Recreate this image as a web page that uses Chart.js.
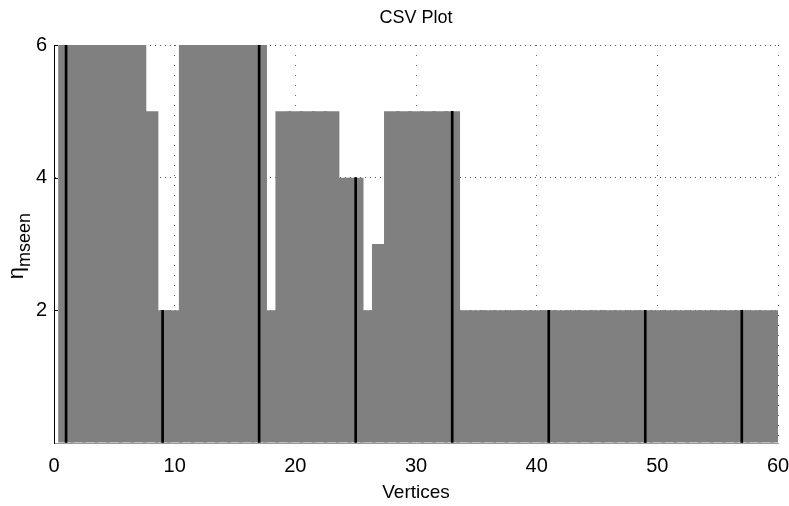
<!DOCTYPE html>
<html>
<head>
<meta charset="utf-8">
<script src="https://cdn.jsdelivr.net/npm/chart.js@4/dist/chart.umd.min.js"></script>
<style>
html,body{margin:0;padding:0;background:#fff;}
#wrap{width:789px;height:506px;position:relative;}
</style>
</head>
<body>
<div id="wrap"><canvas id="c" width="789" height="506"></canvas></div>
<script>
// ---- data ----
const vertices = [1,2,3,4,5,6,7,8,9,10,11,12,13,14,15,16,17,18,19,20,21,22,23,24,25,26,27,28,29,30,
                  31,32,33,34,35,36,37,38,39,40,41,42,43,44,45,46,47,48,49,50,51,52,53,54,55,56,57,58,59,60];
const mseen = [6,6,6,6,6,6,6,5,2,2,6,6,6,6,6,6,6,2,5,5,5,5,5,4,4,2,3,5,5,5,
               5,5,5,2,2,2,2,2,2,2,2,2,2,2,2,2,2,2,2,2,2,2,2,2,2,2,2,2,2,2];
const markerVertices = [1,9,17,25,33,41,49,57];
const markerValues = [6,2,6,4,5,2,2,2];
const xTicks = [0,10,20,30,40,50,60];
const yTicks = [2,4,6];
const titleText = 'CSV Plot';
const xTitle = 'Vertices';
const yTitleMain = 'η';
const yTitleSub = 'mseen';

const FONT = "'Liberation Sans', Arial, sans-serif";

const barData = vertices.map((v, i) => ({x: v, y: mseen[i]}));
const markerData = markerVertices.map((v, i) => ({x: v, y: markerValues[i]}));

const yLabelPlugin = {
  id: 'yLabel',
  afterDraw(chart) {
    const ctx = chart.ctx;
    const a = chart.chartArea;
    ctx.save();
    // inward tick marks on left axis
    ctx.strokeStyle = '#000';
    ctx.lineWidth = 1;
    const ys = chart.scales.y;
    yTicks.forEach(t => {
      const py = Math.round(ys.getPixelForValue(t)) + 0.5;
      ctx.beginPath();
      ctx.moveTo(a.left, py);
      ctx.lineTo(a.left + 4, py);
      ctx.stroke();
    });
    // y axis title with subscript
    ctx.translate(23, 246);
    ctx.rotate(-Math.PI / 2);
    ctx.fillStyle = '#000';
    ctx.textBaseline = 'alphabetic';
    ctx.font = "22px " + FONT;
    const w1 = ctx.measureText(yTitleMain).width;
    ctx.font = "18px " + FONT;
    const w2 = ctx.measureText(yTitleSub).width;
    const start = -(w1 + w2) / 2;
    ctx.font = "22px " + FONT;
    ctx.fillText(yTitleMain, start, 0);
    ctx.font = "18px " + FONT;
    ctx.fillText(yTitleSub, start + w1, 7);
    ctx.restore();
  }
};

new Chart(document.getElementById('c'), {
  type: 'bar',
  data: {
    datasets: [
      {
        label: 'markers',
        data: markerData,
        backgroundColor: '#000',
        borderWidth: 0,
        barThickness: 2,
        grouped: false,
        order: 0,
        clip: 0
      },
      {
        label: 'mseen',
        data: barData,
        backgroundColor: '#808080',
        borderWidth: 0,
        categoryPercentage: 1,
        barPercentage: 1.3,
        grouped: false,
        order: 1,
        clip: 0
      }
    ]
  },
  options: {
    responsive: false,
    animation: false,
    devicePixelRatio: 1,
    layout: {padding: {left: 0, right: 11, top: 0, bottom: 0}},
    plugins: {
      legend: {display: false},
      tooltip: {enabled: false},
      title: {
        display: true,
        fullSize: false,
        text: titleText,
        color: '#000',
        font: {family: FONT, size: 18, weight: 'normal', lineHeight: 1.2},
        padding: {top: 7, bottom: 16.4}
      }
    },
    scales: {
      x: {
        type: 'linear',
        min: 0,
        max: 60,
        offset: false,
        afterBuildTicks: s => { s.ticks = xTicks.map(v => ({value: v})); },
        afterFit: s => { s.height = 63; s.paddingRight = 0; s.paddingLeft = 0; },
        ticks: {color: '#000', font: {family: FONT, size: 20}, padding: 11, maxRotation: 0},
        grid: {color: '#666', lineWidth: 1, drawTicks: false, offset: false, display: true},
        border: {display: true, color: '#999', width: 1, dash: [1, 9]},
        title: {display: true, text: xTitle, color: '#000',
                font: {family: FONT, size: 19}, padding: {top: 0, bottom: 2}}
      },
      y: {
        type: 'linear',
        min: 0,
        max: 6,
        afterBuildTicks: s => { s.ticks = [0].concat(yTicks).map(v => ({value: v})); },
        afterFit: s => { s.width = 54; },
        ticks: {color: '#000', font: {family: FONT, size: 20}, padding: 7,
                callback: v => (v === 0 ? '' : String(v))},
        grid: {color: ctx => (ctx.tick && ctx.tick.value === 0 ? 'rgba(0,0,0,0)' : '#555'),
               lineWidth: 1, drawTicks: false, offset: false},
        border: {display: true, color: '#000', width: 1, dash: [1, 4], z: 1}
      }
    }
  },
  plugins: [yLabelPlugin]
});
</script>
</body>
</html>
